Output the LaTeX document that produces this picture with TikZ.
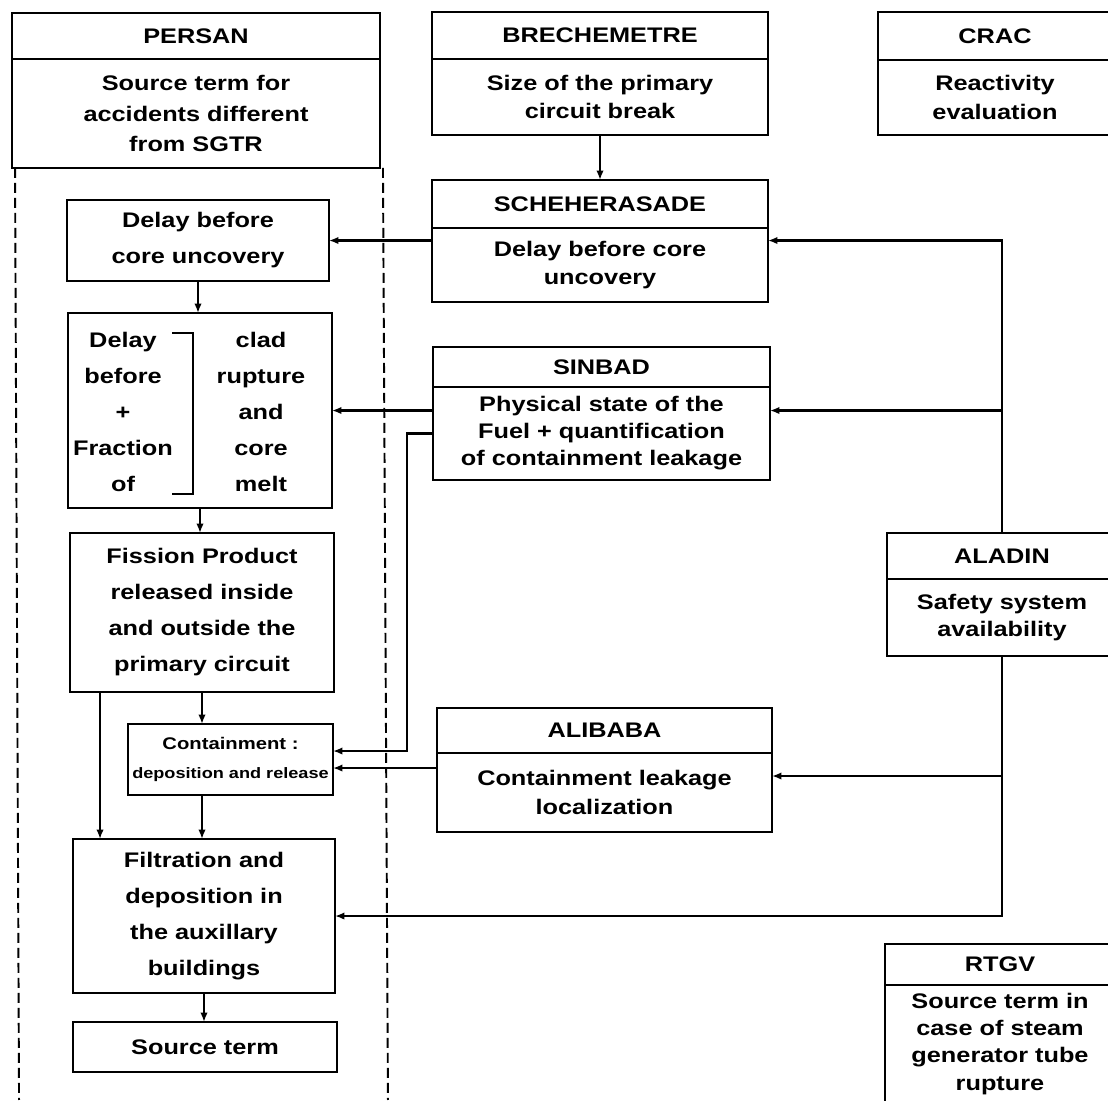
\documentclass[tikz,border=0pt]{standalone}
\usepackage{fontspec}
\setmainfont{Liberation Sans}[FakeStretch=1.2]
\usetikzlibrary{positioning,arrows.meta,calc}
\tikzset{
  stbox/.style={draw, line width=1.5pt, outer sep=0pt, inner sep=2pt, align=center},
  sttitle/.style={stbox, font=\fontsize{12}{16}\selectfont\bfseries},
  stbody/.style={stbox, font=\fontsize{12}{16}\selectfont\bfseries},
  stleft/.style={stbox, font=\fontsize{12}{20.5}\selectfont\bfseries},
  sttext/.style={align=center, inner sep=0pt, font=\fontsize{12}{20.5}\selectfont\bfseries},
  starrow/.style={-{Latex[length=1.9mm, width=1.5mm]}, line width=1.3pt},
  stline/.style={line width=1.3pt},
  stdash/.style={line width=1.1pt, dash pattern=on 2mm off 1mm},
}
\begin{document}
\begin{tikzpicture}[x=0.02cm, y=-0.02cm]
        \useasboundingbox (0,0) rectangle (1108,1100);
        \clip (0,0) rectangle (1108,1100);
        % ---------------- codes ----------------
        \node[sttitle, minimum width=7.36cm, minimum height=0.92cm] (persant) at (196,36) {PERSAN};
        \node[stbody, minimum width=7.36cm, minimum height=2.18cm, below=0pt of persant, font=\fontsize{12}{17.5}\selectfont\bfseries] (persanb) {Source term for\\ accidents different\\ from SGTR};
        \node[sttitle, minimum width=6.72cm, minimum height=0.94cm] (brecht) at (600,35.5) {BRECHEMETRE};
        \node[stbody, minimum width=6.72cm, minimum height=1.52cm, below=0pt of brecht] (brechb) {Size of the primary\\ circuit break};
        \node[sttitle, minimum width=4.68cm, minimum height=0.96cm] (cract) at (995,36) {CRAC};
        \node[stbody, minimum width=4.68cm, minimum height=1.5cm, below=0pt of cract] (cracb) {Reactivity\\ evaluation};
        \node[sttitle, minimum width=6.72cm, minimum height=0.96cm] (schet) at (600,204) {SCHEHERASADE};
        \node[stbody, minimum width=6.72cm, minimum height=1.48cm, below=0pt of schet] (scheb) {Delay before core\\ uncovery};
        \node[sttitle, minimum width=6.74cm, minimum height=0.8cm] (sinbt) at (601.5,367) {SINBAD};
        \node[stbody, minimum width=6.74cm, minimum height=1.86cm, below=0pt of sinbt, font=\fontsize{12}{15.4}\selectfont\bfseries] (sinbb) {Physical state of the\\ Fuel + quantification\\ of containment leakage};
        \node[sttitle, minimum width=6.7cm, minimum height=0.9cm] (alibt) at (604.5,730.5) {ALIBABA};
        \node[stbody, minimum width=6.7cm, minimum height=1.58cm, below=0pt of alibt] (alibb) {Containment leakage\\ localization};
        \node[sttitle, minimum width=4.6cm, minimum height=0.92cm] (aladint) at (1002,556) {ALADIN};
        \node[stbody, minimum width=4.6cm, minimum height=1.54cm, below=0pt of aladint, font=\fontsize{12}{15.4}\selectfont\bfseries] (aladinb) {Safety system\\ availability};
        \node[sttitle, minimum width=4.6cm, minimum height=0.82cm] (rtgvt) at (1000,964.5) {RTGV};
        \node[stbody, minimum width=4.6cm, minimum height=2.36cm, below=0pt of rtgvt, font=\fontsize{12}{15.4}\selectfont\bfseries] (rtgvb) {Source term in\\ case of steam\\ generator tube\\ rupture};
        % ---------------- PERSAN ----------------
        \draw[stdash] ($(persanb.south west)+(3,0)$) -- ++(4,932);
        \draw[stdash] ($(persanb.south east)+(3,0)$) -- ++(5,932);
        \node[stleft, minimum width=5.24cm, minimum height=1.62cm] (dcu) at (198,240.5) {Delay before\\ core uncovery};
        \node[stleft, minimum width=5.28cm, minimum height=3.9cm] (dclad) at (200,410.5) {};
        \node[sttext] (dcladl) at (123,412) {Delay\\ before\\ +\\ Fraction\\ of};
        \node[sttext] (dcladr) at (261,412) {clad\\ rupture\\ and\\ core\\ melt};
        \draw[line width=1.2pt] (172,333) -- (193,333) -- (193,494) -- (172,494);
        \node[stleft, minimum width=5.28cm, minimum height=3.18cm] (fpr) at (202,612.5) {Fission Product\\ released inside\\ and outside the\\ primary circuit};
        \node[stbox, minimum width=4.1cm, minimum height=1.42cm, inner sep=0pt, font=\fontsize{9.6}{17}\selectfont\bfseries] (cont) at (230.5,759.5) {Containment :\\ \fontsize{8.6}{17}\selectfont deposition and release};
        \node[stleft, minimum width=5.24cm, minimum height=3.08cm] (filt) at (204,916) {Filtration and\\ deposition in\\ the auxillary\\ buildings};
        \node[stleft, minimum width=5.28cm, minimum height=1.0cm] (srct) at (205,1047) {Source term};
        \coordinate (fprl) at ($(fpr.south west)+(30,0)$);
        \coordinate (contn) at ($(cont.east)+(0,-8.5)$);
        \coordinate (contl) at ($(cont.east)+(0,8.5)$);
        \coordinate (alibr) at ($(alibb.east)+(0,-16.5)$);
        % ---------------- arrows ----------------
        \draw[starrow] (brechb.south) -- (schet.north);
        \draw[starrow] (dcu.south) -- (dcu.south |- dclad.north);
        \draw[starrow] (dclad.south) -- (dclad.south |- fpr.north);
        \draw[starrow] (fpr.south) -- (fpr.south |- cont.north);
        \draw[starrow] (fprl) -- (fprl |- filt.north);
        \draw[starrow] (cont.south -| fpr.south) -- (filt.north -| fpr.south);
        \draw[starrow] (filt.south) -- (filt.south |- srct.north);
        \draw[starrow] (scheb.west |- dcu.east) -- (dcu.east);
        \draw[starrow] (sinbb.west |- dclad.east) -- (dclad.east);
        \draw[starrow] (sinbb.west) -- ++(-26,0) |- (contn);
        \draw[starrow] (alibb.west |- contl) -- (contl);
        \draw[starrow] (aladint.north) -- (aladint.north |- dcu.east) -- (scheb.east |- dcu.east);
        \draw[starrow] (aladint.north |- dclad.east) -- (sinbb.east |- dclad.east);
        \draw[starrow] (aladinb.south) |- (filt.east);
        \draw[starrow] (aladinb.south |- alibr) -- (alibr);
\end{tikzpicture}
\end{document}
